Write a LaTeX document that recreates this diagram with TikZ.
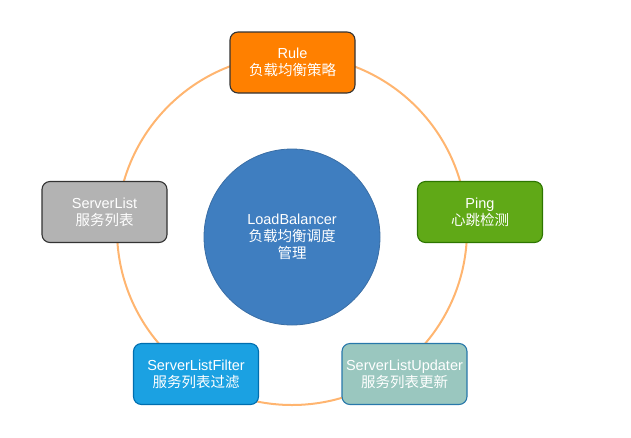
\documentclass[tikz,border=0pt]{standalone}
\usepackage{fontspec}
\setmainfont{Liberation Sans}
\newfontfamily\cjk{Noto Sans CJK SC}
\definecolor{ringorange}{HTML}{FFB570}
\definecolor{lbblue}{HTML}{3F7EC0}
\definecolor{lbedge}{HTML}{3A6EA5}
\begin{document}
\begin{tikzpicture}[x=1pt, y=-1pt,
    box/.style={rounded corners=8pt, line width=1.1pt, minimum width=125pt,
      minimum height=61pt, align=center, text=white, inner sep=0pt,
      font=\fontsize{14.5}{17}\selectfont},
  ]
    \useasboundingbox (0,0) rectangle (631,437);
    % outer ring
    \draw[ringorange, line width=2pt] (292,230) circle (175);
    % center circle
    \node[circle, fill=lbblue, draw=lbedge, line width=0.8pt, minimum size=176pt,
      align=center, text=white, font=\fontsize{14.5}{17}\selectfont] (lb) at (292,237)
      {LoadBalancer\\{\cjk 负载均衡调度}\\{\cjk 管理}};
    % modules
    \node[box, fill={rgb,255:red,255;green,128;blue,0}, draw=black!80] (rule) at (292.5,62.5)
      {Rule\\{\cjk 负载均衡策略}};
    \node[box, fill={rgb,255:red,179;green,179;blue,179}, draw=black!80] (serverlist) at (104.5,212)
      {ServerList\\{\cjk 服务列表}};
    \node[box, fill={rgb,255:red,96;green,169;blue,23}, draw={rgb,255:red,45;green,118;blue,0}] (ping) at (480,212)
      {Ping\\{\cjk 心跳检测}};
    \node[box, fill={rgb,255:red,27;green,161;blue,226}, draw={rgb,255:red,0;green,110;blue,175}] (filter) at (196,374)
      {ServerListFilter\\{\cjk 服务列表过滤}};
    \node[box, fill={rgb,255:red,154;green,199;blue,191}, draw={rgb,255:red,40;green,120;blue,170}] (updater) at (404.5,374)
      {ServerListUpdater\\{\cjk 服务列表更新}};
\end{tikzpicture}
\end{document}
